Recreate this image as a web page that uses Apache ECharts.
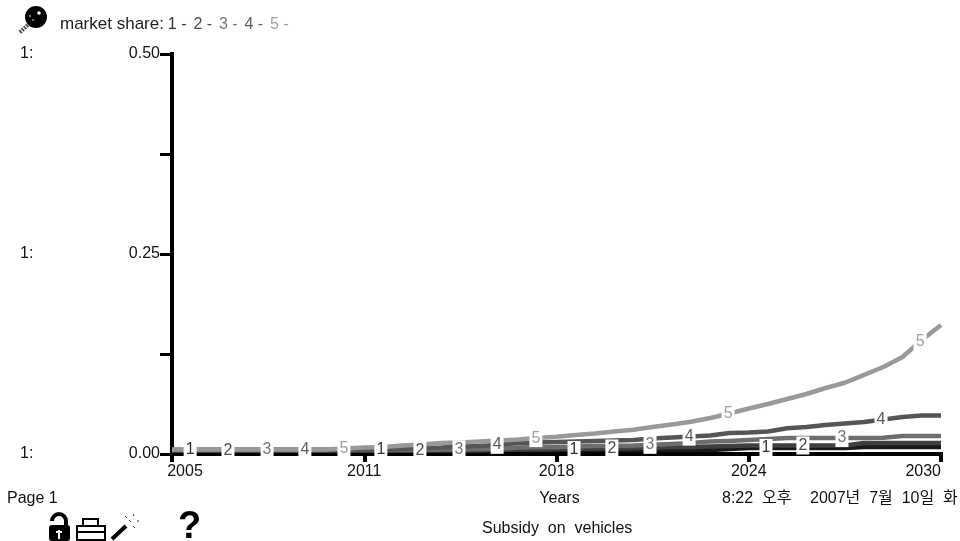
<!DOCTYPE html>
<html>
<head>
<meta charset="utf-8">
<style>
html, body { margin: 0; padding: 0; background: #fff; }
#chart { width: 960px; height: 541px; }
</style>
<script src="https://cdn.jsdelivr.net/npm/echarts@6/dist/echarts.min.js"></script>
</head>
<body>
<div id="chart"></div>
<script>
var years = [2005, 2005.625, 2006.25, 2006.875, 2007.5, 2008.125, 2008.75, 2009.375, 2010, 2010.625,
    2011.25, 2011.875, 2012.5, 2013.125, 2013.75, 2014.375, 2015, 2015.625, 2016.25, 2016.875,
    2017.5, 2018.125, 2018.75, 2019.375, 2020, 2020.625, 2021.25, 2021.875, 2022.5, 2023.125,
    2023.75, 2024.375, 2025, 2025.625, 2026.25, 2026.875, 2027.5, 2028.125, 2028.75, 2029.375, 2030];

var share1 = [.005, .005, .005, .005, .005, .005, .005, .005, .005, .005,
    .005, .005, .005, .005, .005, .005, .005, .005, .005, .005,
    .005, .005, .005, .005, .005, .005, .005, .005, .005, .0063,
    .0075, .0075, .0075, .0075, .0075, .0075, .0088, .0088, .0088, .0088, .0088];
var share2 = [.0044, .0044, .0044, .0044, .0044, .0044, .0044, .0044, .0044, .0044,
    .0044, .0044, .0044, .0044, .0044, .0044, .0044, .005, .0056, .0056,
    .0063, .0063, .0069, .0069, .0075, .0081, .0088, .0088, .0094, .01,
    .0106, .0106, .0106, .0106, .0106, .0106, .0138, .0138, .0138, .0138, .0138];
var share3 = [.005, .005, .005, .005, .005, .005, .005, .005, .005, .005,
    .005, .005, .005, .0054, .0056, .0059, .0063, .0069, .0081, .0085,
    .0088, .0094, .01, .0104, .0106, .0116, .0125, .0138, .0156, .0163,
    .0175, .0188, .02, .02, .02, .02, .02, .0204, .0225, .0225, .0225];
var share4 = [.005, .005, .005, .005, .005, .005, .005, .005, .005, .0056,
    .0056, .0056, .0063, .0075, .0081, .0094, .01, .0116, .0138, .0144,
    .015, .0156, .0163, .0169, .0175, .0194, .0206, .0219, .0231, .0263,
    .0269, .0281, .0321, .0338, .0363, .0381, .04, .0431, .0463, .0481, .0481];
var share5 = [.0056, .0056, .0056, .0056, .0056, .0056, .0056, .0056, .0056, .0069,
    .0081, .0088, .0106, .0119, .0138, .0144, .0156, .0169, .0181, .02,
    .0215, .0238, .0256, .0281, .0304, .0338, .0369, .0404, .045, .0506,
    .0569, .0625, .0688, .075, .0825, .0891, .0988, .1088, .1213, .1425, .1613];

var labelYears1 = [2005.59, 2011.79, 2018.07, 2024.31];
var labelYears2 = [2006.82, 2013.06, 2019.30, 2025.51];
var labelYears3 = [2008.09, 2014.33, 2020.54, 2026.78];
var labelYears4 = [2009.32, 2015.57, 2021.81, 2028.05];
var labelYears5 = [2010.59, 2016.83, 2023.08, 2029.32];

var colors = ['#1a1a1a', '#404040', '#6e6e6e', '#555555', '#999999'];
var textColors = ['#333333', '#4d4d4d', '#777777', '#5c5c5c', '#a0a0a0'];
var fontName = '"Liberation Sans", "Noto Sans CJK KR", sans-serif';

// value of a series at a label's year, so the number box sits on its own line
function valueAt(values, year) {
    for (var i = 1; i < years.length; i++) {
        if (year <= years[i]) {
            var t = (year - years[i - 1]) / (years[i] - years[i - 1]);
            return values[i - 1] + (values[i] - values[i - 1]) * t;
        }
    }
    return values[values.length - 1];
}

function makeSeries(num, values, labelYears) {
    var marks = [];
    for (var i = 0; i < labelYears.length; i++) {
        marks.push({ coord: [labelYears[i], valueAt(values, labelYears[i])] });
    }
    var points = [];
    for (var j = 0; j < years.length; j++) {
        points.push([years[j], values[j]]);
    }
    return {
        name: String(num),
        type: 'line',
        symbol: 'none',
        silent: true,
        clip: false,
        z: 2 + num,
        lineStyle: { color: colors[num - 1], width: 4.5, cap: 'butt', join: 'round' },
        data: points,
        markPoint: {
            silent: true,
            z: 20 + num,
            symbol: 'rect',
            symbolSize: [13, 18],
            itemStyle: { color: '#fff' },
            label: {
                show: true,
                position: 'inside',
                formatter: String(num),
                color: textColors[num - 1],
                fontFamily: fontName,
                fontSize: 16
            },
            animation: false,
            data: marks
        }
    };
}

function titleStyle(color) {
    return { fontSize: 16, fontWeight: 'normal', color: color, fontFamily: fontName, padding: [0, 3, 0, 0] };
}

var chart = echarts.init(document.getElementById('chart'), null, { renderer: 'canvas' });

chart.setOption({
    animation: false,
    backgroundColor: '#fff',
    textStyle: { fontFamily: fontName },
    grid: { left: 172, right: 19, top: 54, bottom: 87 },
    title: {
        left: 60,
        top: 16,
        padding: 0,
        text: '{t|market share:} {a|1 -} {b|2 -} {c|3 -} {d|4 -} {e|5 -}',
        textStyle: {
            fontWeight: 'normal',
            fontSize: 14,
            rich: {
                t: { fontSize: 17, fontWeight: 'normal', color: '#222', fontFamily: fontName },
                a: titleStyle(textColors[0]),
                b: titleStyle(textColors[1]),
                c: titleStyle(textColors[2]),
                d: titleStyle(textColors[3]),
                e: titleStyle(textColors[4])
            }
        }
    },
    xAxis: {
        type: 'value',
        min: 2005,
        max: 2030,
        interval: 6.25,
        name: 'Years',
        nameLocation: 'middle',
        nameGap: 37,
        nameTextStyle: { color: '#111', fontSize: 16, fontFamily: fontName, padding: [0, 0, 0, 6] },
        splitLine: { show: false },
        axisLine: { onZero: false, lineStyle: { color: '#000', width: 4, cap: 'square' } },
        axisTick: { length: 8, lineStyle: { color: '#000', width: 4 } },
        axisLabel: {
            color: '#111',
            fontSize: 16,
            fontFamily: fontName,
            margin: 10,
            alignMaxLabel: 'right',
            formatter: function (val) {
                if (val === 2005) {
                    return '{first|2005}';
                }
                return String(Math.round(val));
            },
            rich: {
                first: { fontSize: 16, color: '#111', fontFamily: fontName, padding: [0, 0, 0, 26] }
            }
        }
    },
    yAxis: [
        {
            type: 'value',
            min: 0,
            max: 0.5,
            interval: 0.125,
            splitLine: { show: false },
            axisLine: { lineStyle: { color: '#000', width: 4, cap: 'square' } },
            axisTick: { length: 12, lineStyle: { color: '#000', width: 3 } },
            axisLabel: {
                color: '#111',
                fontSize: 16,
                fontFamily: fontName,
                margin: 12,
                padding: [2, 0, 0, 0],
                formatter: function (val) {
                    return val === 0.125 || val === 0.375 ? '' : val.toFixed(2);
                }
            }
        },
        {
            type: 'value',
            position: 'left',
            min: 0,
            max: 0.5,
            interval: 0.25,
            splitLine: { show: false },
            axisLine: { show: false },
            axisTick: { show: false },
            axisLabel: {
                color: '#111',
                fontSize: 16,
                fontFamily: fontName,
                align: 'left',
                margin: 152,
                padding: [2, 0, 0, 0],
                formatter: function () {
                    return '1:';
                }
            }
        }
    ],
    series: [
        makeSeries(1, share1, labelYears1),
        makeSeries(2, share2, labelYears2),
        makeSeries(3, share3, labelYears3),
        makeSeries(4, share4, labelYears4),
        makeSeries(5, share5, labelYears5)
    ],
    graphic: [
        { type: 'text', left: 7, top: 491, style: { text: 'Page 1', fontSize: 16, fontFamily: fontName, fill: '#111' } },
        { type: 'text', left: 722, top: 491, style: { text: '8:22  오후', fontSize: 16, fontFamily: fontName, fill: '#111' } },
        { type: 'text', left: 810, top: 491, style: { text: '2007년  7월  10일  화', fontSize: 16, fontFamily: fontName, fill: '#111' } },
        { type: 'text', left: 482, top: 521, style: { text: 'Subsidy  on  vehicles', fontSize: 16, fontFamily: fontName, fill: '#111' } },
        { type: 'text', left: 178, top: 509, style: { text: '?', fontSize: 38, fontWeight: 'bold', fontFamily: fontName, fill: '#000' } },

        // magnifier
        { type: 'circle', shape: { cx: 36, cy: 17, r: 11 }, style: { fill: '#000' } },
        { type: 'circle', shape: { cx: 39, cy: 13, r: 1.8 }, style: { fill: '#fff' } },
        { type: 'circle', shape: { cx: 33, cy: 20, r: 1 }, style: { fill: '#999' } },
        { type: 'circle', shape: { cx: 30, cy: 16, r: 1 }, style: { fill: '#999' } },
        { type: 'line', shape: { x1: 28, y1: 25, x2: 19, y2: 33 }, style: { stroke: '#555', lineWidth: 4, lineDash: [2, 1] } },

        // lock
        { type: 'rect', shape: { x: 49, y: 525, width: 21, height: 16, r: 3 }, style: { fill: '#000' } },
        { type: 'arc', shape: { cx: 59, cy: 521, r: 7, startAngle: Math.PI, endAngle: 0 }, style: { stroke: '#000', fill: null, lineWidth: 4 } },
        { type: 'line', shape: { x1: 66, y1: 521, x2: 66, y2: 526 }, style: { stroke: '#000', lineWidth: 4 } },
        { type: 'rect', shape: { x: 58, y: 530, width: 2, height: 9 }, style: { fill: '#fff' } },
        { type: 'rect', shape: { x: 56, y: 531, width: 6, height: 2 }, style: { fill: '#fff' } },

        // printer
        { type: 'rect', shape: { x: 83, y: 519, width: 15, height: 8 }, style: { fill: '#fff', stroke: '#000', lineWidth: 2 } },
        { type: 'rect', shape: { x: 77, y: 526, width: 28, height: 14 }, style: { fill: '#fff', stroke: '#000', lineWidth: 2 } },
        { type: 'line', shape: { x1: 77, y1: 532, x2: 105, y2: 532 }, style: { stroke: '#000', lineWidth: 2 } },

        // wand
        { type: 'line', shape: { x1: 112, y1: 539, x2: 126, y2: 526 }, style: { stroke: '#000', lineWidth: 4 } },
        { type: 'line', shape: { x1: 133, y1: 514, x2: 134, y2: 516 }, style: { stroke: '#333', lineWidth: 1 } },
        { type: 'line', shape: { x1: 125, y1: 516, x2: 127, y2: 518 }, style: { stroke: '#333', lineWidth: 1 } },
        { type: 'line', shape: { x1: 137, y1: 521, x2: 139, y2: 521 }, style: { stroke: '#333', lineWidth: 1 } },
        { type: 'line', shape: { x1: 129, y1: 520, x2: 131, y2: 522 }, style: { stroke: '#333', lineWidth: 1 } },
        { type: 'line', shape: { x1: 133, y1: 526, x2: 135, y2: 528 }, style: { stroke: '#333', lineWidth: 1 } }
    ]
});
</script>
</body>
</html>
